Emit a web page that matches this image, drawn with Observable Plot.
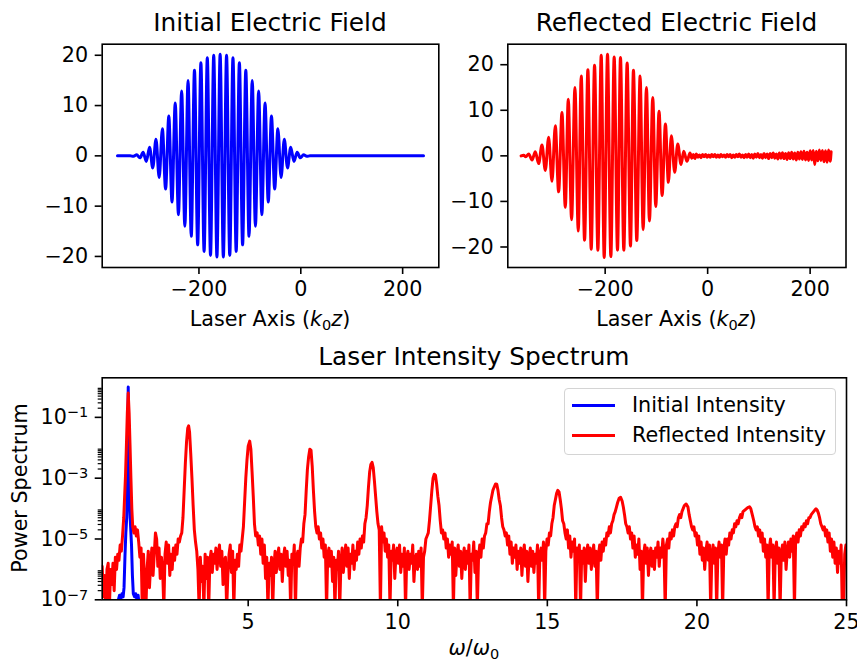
<!DOCTYPE html>
<html>
<head>
<meta charset="utf-8">
<script src="https://cdn.jsdelivr.net/npm/d3@7"></script>
<script src="https://cdn.jsdelivr.net/npm/@observablehq/plot@0.6"></script>
<style>
  body { margin: 0; background: #fff; }
  #chart { position: relative; width: 857px; height: 662px; font-family: "DejaVu Sans", sans-serif; color: #000; overflow: visible; background: #fff; }
  #chart svg { position: absolute; overflow: visible; }
  .lbl { position: absolute; white-space: nowrap; line-height: 20px; font-size: 20.7px; transform: translateX(-50%); }
  .ttl { position: absolute; white-space: nowrap; line-height: 24px; font-size: 24.8px; transform: translateX(-50%); }
  .sub { font-size: 14.5px; position: relative; top: 4px; font-style: normal; }
  .legend { position: absolute; left: 564px; top: 388px; width: 272px; height: 67px; box-sizing: border-box; border: 1px solid #d4d4d4; border-radius: 4px; background: rgba(255,255,255,0.8); }
  .legend .row { position: absolute; left: 0; height: 20px; font-size: 20.7px; line-height: 20px; white-space: nowrap; }
  .legend .sw { position: absolute; left: 7px; top: 8.5px; width: 43px; height: 3px; }
  .legend .tx { position: absolute; left: 67px; top: 0; }
</style>
</head>
<body>
<div id="chart"></div>
<script>
// ---------------- data ----------------
const fieldTicksX = [-200, 0, 200];
const fieldTicksY = [-20, -10, 0, 10, 20];
const spectrumTicksX = [5, 10, 15, 20, 25];
const spectrumTicksY = [1e-7, 1e-5, 1e-3, 1e-1];
const spectrumMinorTicks = [2e-7,3e-7,4e-7,5e-7,6e-7,7e-7,8e-7,9e-7,
  2e-5,3e-5,4e-5,5e-5,6e-5,7e-5,8e-5,9e-5,
  2e-3,3e-3,4e-3,5e-3,6e-3,7e-3,8e-3,9e-3,
  2e-1,3e-1,4e-1,5e-1,6e-1,7e-1,8e-1,9e-1];

// Initial electric field: [k0 z, E] at extrema
const initialField = [
[-360,0],[-335,0],
[-328.5,-0.1],[-322.2,0.2],[-315.9,-0.4],[-309.6,0.7],[-303.3,-1.1],[-297.0,1.7],[-290.7,-2.4],[-284.4,3.3],
[-278.1,-4.3],[-271.8,5.4],[-265.5,-6.6],[-259.2,7.9],[-252.9,-9.2],[-246.6,10.5],[-240.3,-11.7],[-234.0,12.9],
[-227.7,-14.0],[-221.4,15.0],[-215.1,-16.0],[-208.8,17.0],[-202.5,-17.7],[-196.2,18.5],[-189.9,-19.0],[-183.6,19.5],
[-177.3,-19.8],[-171.0,20.0],[-164.7,-20.1],[-158.4,20.2],[-152.1,-20.1],[-145.8,20.0],[-139.5,-19.8],[-133.2,19.5],
[-126.9,-19.0],[-120.6,18.5],[-114.3,-17.7],[-108.0,17.0],[-101.7,-16.0],[-95.4,15.0],[-89.1,-14.0],[-82.8,12.9],
[-76.5,-11.7],[-70.2,10.5],[-63.9,-9.2],[-57.6,7.9],[-51.3,-6.6],[-45.0,5.4],[-38.7,-4.3],[-32.4,3.3],
[-26.1,-2.4],[-19.8,1.7],[-13.5,-1.1],[-7.2,0.7],[-0.9,-0.4],[5.4,0.2],[11.7,-0.1],[18,0],[241,0]
];

// Reflected electric field: [k0 z, E]
const reflectedField = [
[-364,0],[-359,0.15],[-355,-0.2],
[-349.2,0.4],[-342.7,-0.9],[-336.3,0.9],[-329.8,-1.7],[-323.3,2.4],[-316.8,-3.2],[-310.3,4.1],[-303.8,-5.6],
[-297.3,6.6],[-290.8,-7.9],[-284.3,9.5],[-277.8,-11.3],[-272.0,12.4],[-265.5,-14.0],[-259.0,15.0],[-252.5,-16.5],
[-246.7,17.5],[-240.2,-18.5],[-233.7,18.9],[-227.2,-20.5],[-220.7,19.9],[-214.2,-20.7],[-207.7,22.1],[-201.9,-22.3],
[-195.4,22.3],[-188.9,-22.1],[-182.4,21.7],[-175.9,-20.7],[-170.1,21.6],[-163.6,-20.7],[-157.1,20.4],[-150.6,-19.8],
[-144.8,18.8],[-138.3,-18.6],[-131.8,17.5],[-125.9,-16.2],[-119.4,15.0],[-113.6,-14.3],[-107.1,12.8],[-101.3,-11.1],
[-94.8,9.8],[-88.9,-8.7],[-82.4,7.0],[-76.6,-5.8],[-70.8,4.4],[-64.3,-3.6],[-58.4,2.6],[-51.9,-1.9],
[-46.7,1.0],[-40.3,-1.2],[-34.4,0.6],
[-31,-0.5],[-28,0.3],[-25,-0.6],[-22,0.4],[-19,-0.3],[-16,0.2],[-13,-0.4],[-10,0.3],[-7,-0.2],[-4,0.3],[-1,-0.3],
[2,0.2],[5,-0.3],[8,0.3],[11,-0.2],[14,0.3],[17,-0.3],[20,0.2],[23,-0.3],[26,0.3],[29,-0.2],[32,0.2],[35,-0.3],
[38,0.3],[41,-0.2],[44,0.3],[47,-0.4],[50,0.2],[53,-0.3],[56,0.3],[59,-0.2],[62,0.4],[65,-0.3],[68,0.2],[71,-0.4],
[74,0.3],[77,-0.3],[80,0.4],[83,-0.4],[86,0.3],[89,-0.5],[92,0.4],[95,-0.3],[98,0.5],[101,-0.4],[104,0.3],[107,-0.5],
[110,0.5],[113,-0.4],[116,0.4],[119,-0.6],[122,0.5],[125,-0.4],[128,0.6],[131,-0.5],[134,0.4],[137,-0.7],[140,0.6],
[143,-0.5],[146,0.7],[149,-0.6],[152,0.5],[155,-0.8],[158,0.7],[161,-0.6],[164,0.8],[167,-0.7],[170,0.6],[173,-0.9],
[176,0.8],[179,-0.7],[182,0.9],[185,-0.8],[188,1.0],[191,-0.9],[194,0.8],[197,-1.0],[200,1.1],[203,-0.9],[206,1.2],
[209,-1.9],[212,1.0],[215,-1.1],[218,1.3],[221,-1.0],[224,1.2],[227,-1.3],[230,1.1],[233,-1.4],[236,1.3],[239,-1.2],[241,0.9]
];

// Initial intensity spectrum: [omega/omega0, log10(power)]
const initialSpectrumLog = [
[0.62,-8.5],[0.66,-7.0],[0.70,-6.85],[0.74,-7.0],[0.78,-6.8],[0.82,-6.9],[0.85,-6.6],[0.88,-5.6],[0.91,-4.8],
[0.94,-4.3],[0.965,-2.5],[0.99,0.0],[1.015,-2.5],[1.04,-4.0],[1.07,-4.6],[1.10,-5.2],[1.13,-6.2],[1.16,-6.8],
[1.20,-6.9],[1.24,-6.8],[1.28,-7.0],[1.32,-6.85],[1.36,-7.2],[1.40,-8.5]
];

// Reflected intensity spectrum: [omega/omega0, log10(power)]
const reflectedSpectrumLog = [
[0.08,-6.4],[0.12,-5.9],[0.16,-6.9],[0.20,-6.2],[0.24,-7.3],[0.28,-6.0],[0.32,-5.8],[0.36,-7.3],[0.40,-6.0],[0.44,-6.5],
[0.48,-5.8],[0.52,-6.7],[0.56,-5.6],[0.60,-6.0],[0.64,-5.5],[0.68,-5.7],[0.72,-5.2],[0.76,-5.4],[0.80,-4.9],[0.84,-4.3],
[0.87,-3.6],[0.90,-2.9],[0.93,-1.9],[0.96,-0.85],[0.99,-0.2],[1.02,-0.85],[1.05,-1.9],[1.08,-3.0],[1.11,-4.0],[1.14,-4.6],
[1.18,-4.8],[1.22,-4.6],[1.26,-4.9],[1.30,-4.7],[1.34,-5.1],[1.38,-5.6],[1.42,-5.3],[1.46,-7.3],[1.50,-5.5],[1.54,-6.4],
[1.58,-7.3],[1.62,-6.0],[1.66,-5.4],[1.70,-6.6],[1.74,-5.8],[1.78,-5.3],[1.82,-6.2],[1.86,-5.5],[1.90,-4.8],[1.94,-5.0],
[1.98,-5.9],[2.02,-5.3],[2.06,-6.3],[2.10,-5.6],[2.14,-6.0],[2.18,-7.3],[2.22,-5.5],[2.26,-5.1],[2.30,-5.8],[2.34,-5.2],
[2.38,-6.2],[2.42,-5.5],[2.46,-6.0],[2.50,-5.3],[2.54,-5.7],[2.58,-5.2],[2.62,-5.5],[2.66,-5.0],[2.70,-5.1],[2.74,-4.9],
[2.78,-4.8],[2.82,-4.3],[2.86,-3.4],[2.90,-2.5],[2.94,-1.8],[2.98,-1.35],[3.01,-1.28],[3.04,-1.48],[3.08,-2.2],[3.12,-3.0],
[3.16,-3.9],[3.20,-4.7],[3.24,-5.1],[3.28,-5.4],[3.32,-6.0],[3.36,-7.3],[3.40,-5.6],[3.44,-6.4],[3.48,-5.9],[3.52,-7.3],
[3.56,-5.5],[3.60,-6.3],[3.64,-5.6],[3.68,-7.3],[3.72,-5.7],[3.76,-5.4],[3.80,-6.1],[3.84,-5.5],[3.88,-5.8],[3.92,-5.3],
[3.96,-6.0],[4.00,-5.5],[4.04,-5.2],[4.08,-5.9],[4.12,-5.4],[4.16,-6.5],[4.20,-5.7],[4.24,-5.6],[4.28,-7.3],[4.32,-6.2],
[4.36,-5.5],[4.40,-5.2],[4.44,-6.1],[4.48,-5.4],[4.52,-7.3],[4.56,-5.7],[4.60,-6.0],[4.64,-5.5],[4.68,-5.9],[4.72,-5.2],
[4.76,-5.4],[4.80,-5.0],[4.84,-4.6],[4.88,-3.8],[4.92,-3.0],[4.96,-2.4],[5.00,-1.95],[5.05,-1.78],[5.09,-2.05],[5.13,-2.8],
[5.17,-3.6],[5.21,-4.5],[5.25,-4.9],[5.30,-4.8],[5.34,-5.2],[5.38,-4.9],[5.42,-5.5],[5.46,-5.0],[5.50,-5.8],[5.54,-5.2],
[5.58,-6.3],[5.62,-5.6],[5.66,-7.3],[5.70,-5.8],[5.74,-6.2],[5.78,-5.6],[5.82,-7.3],[5.86,-5.9],[5.90,-5.4],[5.94,-6.1],
[5.98,-5.6],[6.02,-5.3],[6.06,-6.0],[6.10,-5.5],[6.14,-6.4],[6.18,-5.6],[6.22,-5.3],[6.26,-5.9],[6.30,-5.4],[6.34,-6.2],
[6.38,-5.7],[6.42,-7.3],[6.46,-5.5],[6.50,-5.8],[6.54,-5.2],[6.58,-7.3],[6.62,-5.6],[6.66,-5.4],[6.70,-5.9],[6.74,-5.3],
[6.78,-5.0],[6.82,-5.1],[6.86,-4.5],[6.90,-4.2],[6.94,-3.4],[6.98,-2.7],[7.02,-2.3],[7.06,-2.05],[7.10,-2.08],[7.14,-2.6],
[7.18,-3.4],[7.22,-4.1],[7.26,-4.6],[7.30,-4.8],[7.34,-4.6],[7.38,-5.0],[7.42,-4.8],[7.46,-5.3],[7.50,-5.0],[7.54,-5.6],
[7.58,-5.2],[7.62,-7.3],[7.66,-5.5],[7.70,-5.3],[7.74,-5.9],[7.78,-5.4],[7.82,-6.4],[7.86,-5.6],[7.90,-7.3],[7.94,-5.7],
[7.98,-6.0],[8.02,-5.4],[8.06,-7.3],[8.10,-5.8],[8.14,-5.3],[8.18,-6.1],[8.22,-5.6],[8.26,-5.2],[8.30,-5.9],[8.34,-5.3],
[8.38,-6.3],[8.42,-5.5],[8.46,-5.8],[8.50,-5.2],[8.54,-6.0],[8.58,-5.4],[8.62,-5.7],[8.66,-5.1],[8.70,-5.5],[8.74,-5.0],
[8.78,-5.3],[8.82,-4.9],[8.86,-5.1],[8.90,-4.5],[8.94,-4.3],[8.98,-3.9],[9.02,-3.3],[9.06,-2.8],[9.10,-2.55],[9.14,-2.48],
[9.18,-2.65],[9.22,-3.1],[9.26,-3.6],[9.30,-4.1],[9.34,-4.5],[9.38,-4.7],[9.42,-7.3],[9.46,-4.6],[9.50,-5.1],[9.54,-4.8],
[9.58,-5.4],[9.62,-5.0],[9.66,-5.6],[9.70,-5.2],[9.74,-7.3],[9.78,-5.4],[9.82,-5.7],[9.86,-5.2],[9.90,-6.3],[9.94,-5.5],
[9.98,-5.3],[10.02,-5.8],[10.06,-5.2],[10.10,-6.1],[10.14,-5.5],[10.18,-5.9],[10.22,-5.3],[10.26,-7.3],[10.30,-5.6],[10.34,-5.4],
[10.38,-6.0],[10.42,-5.5],[10.46,-5.8],[10.50,-5.2],[10.54,-6.4],[10.58,-5.7],[10.62,-5.5],[10.66,-6.0],[10.70,-5.4],[10.74,-5.9],
[10.78,-5.3],[10.82,-7.3],[10.86,-5.6],[10.90,-5.4],[10.94,-5.0],[10.98,-4.9],[11.02,-4.8],[11.06,-4.4],[11.10,-3.9],[11.14,-3.4],
[11.18,-3.0],[11.22,-2.87],[11.26,-2.9],[11.30,-3.2],[11.34,-3.6],[11.38,-3.9],[11.42,-4.4],[11.46,-4.8],[11.50,-4.7],[11.54,-5.0],
[11.58,-4.8],[11.62,-5.3],[11.66,-5.0],[11.70,-5.6],[11.74,-5.2],[11.78,-5.5],[11.82,-5.1],[11.86,-7.3],[11.90,-5.3],[11.94,-6.2],
[11.98,-5.5],[12.02,-5.2],[12.06,-5.9],[12.10,-5.4],[12.14,-6.3],[12.18,-5.6],[12.22,-5.3],[12.26,-6.0],[12.30,-5.4],[12.34,-5.8],
[12.38,-5.2],[12.42,-7.3],[12.46,-5.5],[12.50,-5.7],[12.54,-5.1],[12.58,-6.1],[12.62,-5.4],[12.66,-7.3],[12.70,-5.6],[12.74,-5.2],
[12.78,-5.6],[12.82,-5.0],[12.86,-5.3],[12.90,-4.9],[12.94,-4.8],[12.98,-4.5],[13.02,-4.5],[13.06,-4.1],[13.10,-3.8],[13.14,-3.6],
[13.18,-3.4],[13.22,-3.3],[13.27,-3.19],[13.31,-3.2],[13.35,-3.4],[13.39,-3.7],[13.43,-3.9],[13.47,-4.3],[13.51,-4.6],[13.55,-4.7],
[13.59,-4.9],[13.63,-4.8],[13.67,-5.2],[13.71,-4.9],[13.75,-5.5],[13.79,-5.1],[13.83,-5.8],[13.87,-5.3],[13.91,-5.6],[13.95,-5.2],
[13.99,-6.0],[14.03,-5.4],[14.07,-5.8],[14.11,-5.3],[14.15,-6.2],[14.19,-5.5],[14.23,-5.2],[14.27,-5.9],[14.31,-5.4],[14.35,-6.4],
[14.39,-5.6],[14.43,-5.3],[14.47,-5.9],[14.51,-5.4],[14.55,-6.1],[14.59,-5.5],[14.63,-5.8],[14.67,-5.2],[14.71,-7.3],[14.75,-5.5],
[14.79,-5.3],[14.83,-5.7],[14.87,-5.1],[14.91,-7.3],[14.95,-5.4],[14.99,-5.0],[15.03,-5.2],[15.07,-4.8],[15.11,-4.9],[15.15,-4.5],
[15.19,-4.3],[15.23,-3.9],[15.27,-3.7],[15.31,-3.5],[15.35,-3.40],[15.39,-3.45],[15.43,-3.7],[15.47,-4.0],[15.51,-4.4],[15.55,-4.5],
[15.59,-4.8],[15.63,-5.0],[15.67,-4.7],[15.71,-5.3],[15.75,-4.9],[15.79,-5.6],[15.83,-5.1],[15.87,-5.4],[15.91,-5.0],[15.95,-7.3],
[15.99,-5.3],[16.03,-5.6],[16.07,-5.2],[16.11,-7.3],[16.15,-5.4],[16.19,-5.8],[16.23,-5.3],[16.27,-6.4],[16.31,-5.5],[16.35,-5.2],
[16.39,-5.8],[16.43,-5.3],[16.47,-6.0],[16.51,-5.5],[16.55,-5.2],[16.59,-5.9],[16.63,-5.4],[16.67,-7.3],[16.71,-5.5],[16.75,-5.2],
[16.79,-5.7],[16.83,-5.1],[16.87,-5.4],[16.91,-5.0],[16.95,-5.2],[16.99,-4.8],[17.03,-4.9],[17.07,-4.6],[17.11,-4.8],[17.15,-4.5],
[17.19,-4.4],[17.23,-4.2],[17.27,-4.1],[17.31,-3.95],[17.35,-3.8],[17.40,-3.66],[17.45,-3.63],[17.50,-3.75],[17.54,-3.95],[17.58,-4.2],
[17.62,-4.5],[17.66,-4.6],[17.70,-4.8],[17.74,-4.6],[17.78,-5.0],[17.82,-4.8],[17.86,-5.3],[17.90,-4.9],[17.94,-5.6],[17.98,-5.2],
[18.02,-5.5],[18.06,-5.0],[18.10,-6.0],[18.14,-5.4],[18.18,-7.3],[18.22,-5.5],[18.26,-5.2],[18.30,-5.8],[18.34,-5.3],[18.38,-6.2],
[18.42,-5.5],[18.46,-5.3],[18.50,-5.9],[18.54,-5.4],[18.58,-6.0],[18.62,-5.3],[18.66,-5.6],[18.70,-5.1],[18.74,-5.9],[18.78,-5.3],
[18.82,-5.6],[18.86,-5.0],[18.90,-5.4],[18.94,-7.3],[18.98,-5.2],[19.02,-5.0],[19.06,-5.3],[19.10,-4.8],[19.14,-5.0],[19.18,-4.7],
[19.22,-4.9],[19.26,-4.6],[19.30,-4.5],[19.34,-4.6],[19.38,-4.3],[19.42,-4.2],[19.46,-4.3],[19.50,-4.1],[19.54,-4.0],[19.58,-3.9],
[19.64,-3.85],[19.70,-3.95],[19.74,-4.2],[19.78,-4.4],[19.82,-4.6],[19.86,-4.7],[19.90,-4.6],[19.94,-4.9],[19.98,-4.8],[20.02,-5.2],
[20.06,-4.9],[20.10,-5.5],[20.14,-5.1],[20.18,-5.7],[20.22,-5.3],[20.26,-6.0],[20.30,-5.4],[20.34,-5.1],[20.38,-5.7],[20.42,-5.2],
[20.46,-7.3],[20.50,-5.5],[20.54,-5.2],[20.58,-5.8],[20.62,-5.3],[20.66,-7.3],[20.70,-5.5],[20.74,-5.1],[20.78,-5.6],[20.82,-5.2],
[20.86,-7.3],[20.90,-5.3],[20.94,-5.0],[20.98,-5.5],[21.02,-5.0],[21.06,-5.2],[21.10,-4.8],[21.14,-5.0],[21.18,-4.7],[21.22,-4.8],
[21.26,-4.5],[21.30,-4.6],[21.34,-4.4],[21.38,-4.5],[21.42,-4.3],[21.46,-4.2],[21.50,-4.3],[21.54,-4.1],[21.60,-4.05],[21.66,-4.0],
[21.72,-3.96],[21.76,-3.94],[21.80,-4.0],[21.85,-4.2],[21.90,-4.4],[21.94,-4.6],[21.98,-4.7],[22.02,-4.6],[22.06,-4.9],[22.10,-4.7],
[22.14,-5.1],[22.18,-4.8],[22.22,-5.4],[22.26,-5.0],[22.30,-5.6],[22.34,-5.2],[22.38,-7.3],[22.42,-5.3],[22.46,-5.0],[22.50,-5.6],
[22.54,-5.2],[22.58,-7.3],[22.62,-5.4],[22.66,-5.1],[22.70,-5.8],[22.74,-5.3],[22.78,-7.3],[22.82,-5.5],[22.86,-5.2],[22.90,-5.7],
[22.94,-5.1],[22.98,-6.0],[23.02,-5.4],[23.06,-5.1],[23.10,-5.6],[23.14,-5.0],[23.18,-5.4],[23.22,-4.9],[23.26,-7.3],[23.30,-5.0],
[23.34,-4.8],[23.38,-5.1],[23.42,-4.7],[23.46,-4.9],[23.50,-4.6],[23.54,-4.7],[23.58,-4.5],[23.62,-4.6],[23.66,-4.4],[23.70,-4.5],
[23.74,-4.3],[23.78,-4.3],[23.82,-4.2],[23.86,-4.15],[23.90,-4.1],[23.94,-4.05],[23.98,-4.01],[24.02,-4.05],[24.06,-4.15],[24.10,-4.3],
[24.14,-4.5],[24.18,-4.6],[24.22,-4.7],[24.26,-4.6],[24.30,-4.9],[24.34,-4.7],[24.38,-5.1],[24.42,-4.8],[24.46,-5.4],[24.50,-5.0],
[24.54,-5.6],[24.58,-5.1],[24.62,-5.8],[24.66,-5.3],[24.70,-6.1],[24.74,-5.4],[24.78,-5.8],[24.82,-5.2],[24.86,-7.3],[24.90,-7.3],
[24.94,-5.5],[24.98,-5.2]
];

// ---------------- helpers ----------------
const FONT = "DejaVu Sans";
const TICKFONT = 20.7;
const signed = d => d < 0 ? "\u2212" + Math.abs(d) : String(d);
const powLabel = d => { const e = Math.round(Math.log10(d)); return "10^" + signed(e); };
const baseStyle = {fontFamily: FONT, fontSize: TICKFONT + "px", color: "black", background: "transparent", overflow: "visible"};

const chart = document.getElementById("chart");
function place(svg, left, top) { svg.style.left = left + "px"; svg.style.top = top + "px"; chart.appendChild(svg); }

// ---------------- top-left: initial field ----------------
const initRows = initialField.map(([x, y]) => ({x, y}));
const p1 = Plot.plot({
  width: 450, height: 340,
  marginLeft: 101.7, marginRight: 450 - 438.3, marginTop: 43.7, marginBottom: 340 - 267,
  style: baseStyle,
  x: {domain: [-390, 271]},
  y: {domain: [-22.2, 22.2]},
  marks: [
    Plot.line(initRows, {x: "x", y: "y", stroke: "#0000ff", strokeWidth: 3, curve: "monotone-x"}),
    Plot.axisX({ticks: fieldTicksX, tickSize: 7, tickPadding: 7, strokeWidth: 1.6, tickFormat: signed, label: null, fontSize: TICKFONT}),
    Plot.axisY({ticks: fieldTicksY, tickSize: 7, tickPadding: 7, strokeWidth: 1.6, tickFormat: signed, label: null, fontSize: TICKFONT}),
    Plot.frame({stroke: "black", strokeWidth: 1.6})
  ]
});
place(p1, 0, 0);

// ---------------- top-right: reflected field ----------------
const reflRows = reflectedField.map(([x, y]) => ({x, y}));
const p2 = Plot.plot({
  width: 417, height: 340,
  marginLeft: 507.3 - 440, marginRight: 857 - 845.5, marginTop: 43.7, marginBottom: 340 - 267,
  style: baseStyle,
  x: {domain: [-390, 270]},
  y: {domain: [-24.5, 24.5]},
  marks: [
    Plot.line(reflRows, {x: "x", y: "y", stroke: "#ff0000", strokeWidth: 3, curve: "monotone-x"}),
    Plot.axisX({ticks: fieldTicksX, tickSize: 7, tickPadding: 7, strokeWidth: 1.6, tickFormat: signed, label: null, fontSize: TICKFONT}),
    Plot.axisY({ticks: fieldTicksY, tickSize: 7, tickPadding: 7, strokeWidth: 1.6, tickFormat: signed, label: null, fontSize: TICKFONT}),
    Plot.frame({stroke: "black", strokeWidth: 1.6})
  ]
});
place(p2, 440, 0);

// ---------------- bottom: spectrum ----------------
const initSpec = initialSpectrumLog.map(([w, e]) => ({w, p: Math.pow(10, e)}));
const reflSpec = reflectedSpectrumLog.map(([w, e]) => ({w, p: Math.pow(10, e)}));
const p3 = Plot.plot({
  width: 857, height: 322,
  marginLeft: 101.7, marginRight: 857 - 846, marginTop: 377.3 - 340, marginBottom: 662 - 599.3,
  style: baseStyle,
  x: {domain: [0.12, 25]},
  y: {type: "log", domain: [1e-7, 2]},
  marks: [
    Plot.line(initSpec, {x: "w", y: "p", stroke: "#0000ff", strokeWidth: 3, clip: true}),
    Plot.line(reflSpec, {x: "w", y: "p", stroke: "#ff0000", strokeWidth: 3, clip: true}),
    Plot.axisX({ticks: spectrumTicksX, tickSize: 7, tickPadding: 7, strokeWidth: 1.6, label: null, fontSize: TICKFONT}),
    Plot.axisY({ticks: spectrumMinorTicks, tickSize: 4, strokeWidth: 1.2, tickFormat: () => "", label: null}),
    Plot.axisY({ticks: spectrumTicksY, tickSize: 7, tickPadding: 7, strokeWidth: 1.6, tickFormat: powLabel, label: null, fontSize: TICKFONT}),
    Plot.frame({stroke: "black", strokeWidth: 1.6})
  ]
});
// turn "10^−7" into 10 with a superscript
p3.querySelectorAll("text").forEach(t => {
  const s = t.textContent;
  if (s.startsWith("10^")) {
    const exp = s.slice(3);
    t.textContent = "10";
    const ts = document.createElementNS("http://www.w3.org/2000/svg", "tspan");
    ts.setAttribute("dy", "-0.45em");
    ts.setAttribute("font-size", "14.5");
    ts.textContent = exp;
    t.appendChild(ts);
  }
});
place(p3, 0, 340);

// ---------------- text: titles, labels, legend ----------------
function addHTML(html) { const d = document.createElement("div"); d.innerHTML = html; while (d.firstChild) chart.appendChild(d.firstChild); }
addHTML(`<div class="ttl" style="left:270px;top:11.2px">Initial Electric Field</div>`);
addHTML(`<div class="ttl" style="left:676.4px;top:11.2px">Reflected Electric Field</div>`);
addHTML(`<div class="ttl" style="left:473.9px;top:344.5px">Laser Intensity Spectrum</div>`);
addHTML(`<div class="lbl" style="left:270px;top:309px">Laser Axis (<i>k</i><span class="sub">0</span><i>z</i>)</div>`);
addHTML(`<div class="lbl" style="left:676.4px;top:309px">Laser Axis (<i>k</i><span class="sub">0</span><i>z</i>)</div>`);
addHTML(`<div class="lbl" style="left:473.9px;top:638px"><i>ω</i>/<i>ω</i><span class="sub">0</span></div>`);
addHTML(`<div class="lbl" style="left:20px;top:488.3px;transform:translate(-50%,-50%) rotate(-90deg)">Power Spectrum</div>`);
addHTML(`<div class="legend">
  <div class="row" style="top:6px"><div class="sw" style="background:#0000ff"></div><div class="tx">Initial Intensity</div></div>
  <div class="row" style="top:36px"><div class="sw" style="background:#ff0000"></div><div class="tx">Reflected Intensity</div></div>
</div>`);
</script>
</body>
</html>
